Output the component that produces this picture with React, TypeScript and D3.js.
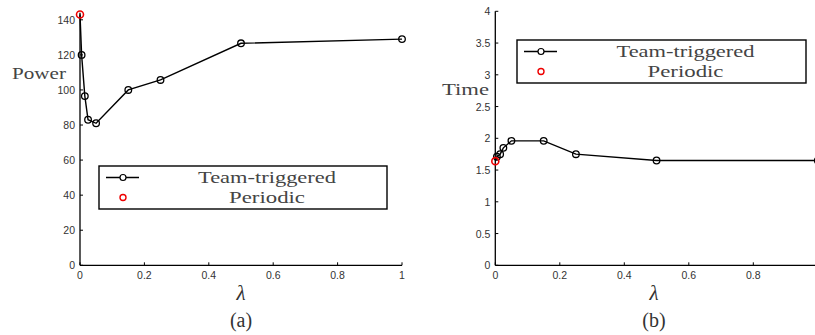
import * as d3 from "d3";

// lambda values shared by both panels
const lambdas = [0, 0.005, 0.015, 0.025, 0.05, 0.15, 0.25, 0.5, 1];
const powerTeam = [143, 120, 96.5, 83, 81, 100, 105.7, 126.6, 129];
const powerPeriodic = [143];
const timeTeam = [1.64, 1.71, 1.75, 1.85, 1.96, 1.96, 1.75, 1.65, 1.65];
const timePeriodic = [1.64];

const xTicks = [0, 0.2, 0.4, 0.6, 0.8, 1];
const powerTicks = [0, 20, 40, 60, 80, 100, 120, 140];
const timeTicks = [0, 0.5, 1, 1.5, 2, 2.5, 3, 3.5, 4];

const legendLabels = ["Team-triggered", "Periodic"];
const legendWidths = [138, 76];

const serif = "'Liberation Serif', 'Times New Roman', serif";
const sans = "'Liberation Sans', Arial, sans-serif";

type PanelProps = {
  team: number[];
  periodic: number[];
  yMax: number;
  yTicks: number[];
  x0: number;
  x1: number;
  yTop: number;
  axisEnd: number;
  yLabel: string;
  yLabelX: number;
  yLabelY: number;
  yLabelW: number;
  midX: number;
  legend: { x: number; y: number; w: number; h: number };
  caption: string;
};

const Panel = (p: PanelProps) => {
  const yBottom = 265.3;
  const x = d3.scaleLinear().domain([0, 1]).range([p.x0, p.x1]);
  const y = d3.scaleLinear().domain([0, p.yMax]).range([yBottom, p.yTop]);
  const pts = lambdas.map((l, i) => [l, p.team[i]] as [number, number]);
  const line = d3
    .line<[number, number]>()
    .x((d) => x(d[0]))
    .y((d) => y(d[1]));
  const lg = p.legend;
  return (
    <g>
      {/* axes */}
      <line x1={p.x0} x2={p.axisEnd} y1={yBottom} y2={yBottom} stroke="#000" strokeWidth={1.3} />
      <line x1={p.x0} x2={p.x0} y1={yBottom} y2={p.yTop} stroke="#000" strokeWidth={1.3} />
      {xTicks.map((t) => (
        <g key={"x" + t}>
          <line x1={x(t)} x2={x(t)} y1={yBottom} y2={yBottom - 3} stroke="#000" />
          {x(t) < 812 && (
            <text x={x(t)} y={yBottom + 14} textAnchor="middle" fontFamily={sans} fontSize={10.5} fill="#333">
              {t}
            </text>
          )}
        </g>
      ))}
      {p.yTicks.map((t) => (
        <g key={"y" + t}>
          <line x1={p.x0} x2={p.x0 + 3} y1={y(t)} y2={y(t)} stroke="#000" />
          <text x={p.x0 - 5} y={y(t) + 4} textAnchor="end" fontFamily={sans} fontSize={10.5} fill="#333">
            {t}
          </text>
        </g>
      ))}
      {/* series */}
      <path d={line(pts) || ""} fill="none" stroke="#000" strokeWidth={1.4} />
      {pts.slice(1).map((d, i) => (
        <circle key={i} cx={x(d[0])} cy={y(d[1])} r={3.3} fill="none" stroke="#000" strokeWidth={1.3} />
      ))}
      {p.periodic.map((v, i) => (
        <circle key={"p" + i} cx={x(0)} cy={y(v)} r={3.5} fill="none" stroke="#e00" strokeWidth={1.6} />
      ))}
      {/* labels */}
      <text
        x={p.yLabelX}
        y={p.yLabelY}
        fontFamily={serif}
        fontSize={16}
        fill="#444"
        textLength={p.yLabelW}
        lengthAdjust="spacingAndGlyphs"
      >
        {p.yLabel}
      </text>
      <text x={p.midX} y={300} textAnchor="middle" fontFamily={serif} fontStyle="italic" fontSize={21} fill="#333">
        λ
      </text>
      <text x={p.midX} y={327} textAnchor="middle" fontFamily={serif} fontSize={20} fill="#333">
        {p.caption}
      </text>
      {/* legend */}
      <rect x={lg.x} y={lg.y} width={lg.w} height={lg.h} fill="#fff" stroke="#000" strokeWidth={1.4} />
      <line x1={lg.x + 7} x2={lg.x + 40} y1={lg.y + 11.5} y2={lg.y + 11.5} stroke="#000" strokeWidth={1.4} />
      <circle cx={lg.x + 24} cy={lg.y + 11.5} r={3} fill="#fff" stroke="#000" strokeWidth={1.2} />
      <circle cx={lg.x + 24} cy={lg.y + 31.5} r={3} fill="none" stroke="#e00" strokeWidth={1.4} />
      {legendLabels.map((s, i) => (
        <text
          key={s}
          x={lg.x + lg.w / 2 + 24}
          y={lg.y + 17 + i * 20}
          textAnchor="middle"
          fontFamily={serif}
          fontSize={16}
          fill="#444"
          textLength={legendWidths[i]}
          lengthAdjust="spacingAndGlyphs"
        >
          {s}
        </text>
      ))}
    </g>
  );
};

const App = () => (
  <svg width={815} height={335} style={{ position: "absolute", left: 0, top: 0 }}>
    <rect width={815} height={335} fill="#fff" />
    <Panel
      team={powerTeam}
      periodic={powerPeriodic}
      yMax={144}
      yTicks={powerTicks}
      x0={80}
      x1={402}
      yTop={12.8}
      axisEnd={402}
      yLabel="Power"
      yLabelX={12}
      yLabelY={79}
      yLabelW={54}
      midX={241}
      legend={{ x: 99, y: 166, w: 288, h: 43 }}
      caption="(a)"
    />
    <Panel
      team={timeTeam}
      periodic={timePeriodic}
      yMax={4}
      yTicks={timeTicks}
      x0={495.3}
      x1={817.8}
      yTop={11.3}
      axisEnd={815}
      yLabel="Time"
      yLabelX={442}
      yLabelY={95}
      yLabelW={47}
      midX={654}
      legend={{ x: 517, y: 40, w: 289, h: 43 }}
      caption="(b)"
    />
  </svg>
);

export default App;
